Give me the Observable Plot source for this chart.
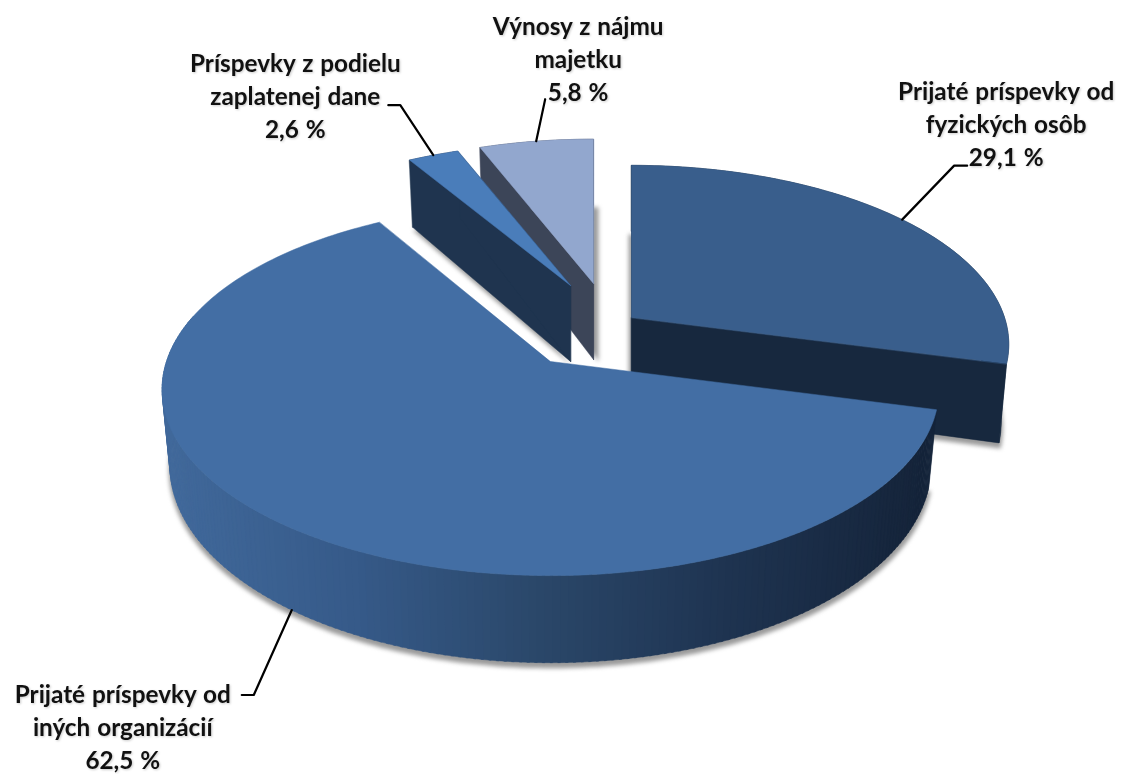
<!DOCTYPE html>
<html>
<head>
<meta charset="utf-8">
<script src="https://cdn.jsdelivr.net/npm/d3@7"></script>
<script src="https://cdn.jsdelivr.net/npm/@observablehq/plot@0.6"></script>
<style>
html,body{margin:0;padding:0;background:#fff;}
svg{display:block;}
</style>
</head>
<body>
<div id="chart"></div>
<script>
// ---- chart values, in slice order, clockwise from 12 o'clock ----
const categories = [
  "Prijaté príspevky od\nfyzických osôb",
  "Prijaté príspevky od\niných organizácií",
  "Príspevky z podielu\nzaplatenej dane",
  "Výnosy z nájmu\nmajetku"
];
const shares = [29.1, 62.5, 2.6, 5.8];

// ---- look of each slice ----
const topColors  = ["#395e8c", "#436ea4", "#4a7dba", "#92a7ce"];
const wallColors = ["#17283e", null, "#1f344f", "#3c4558"];
const wallRamp = d3.piecewise(d3.interpolateRgb, ["#41699b", "#365a89", "#2a4769", "#1e3350", "#15243a"]);

// ---- exploded layout of the perspective pie ----
const hubX  = [631, 550, 570, 593];
const hubY  = [317, 361, 285, 283];
const radX  = [373, 384, 361, 363];
const radY  = [175, 182, 164, 166];
const depths = [76, 74, 76, 76];
const perspective = 0.15, narrowing = 0.98;
const shadowDx = [0, 0, 0, 5], shadowDy = [4, 5, 3, 2], shadowGrow = [1.012, 1.004, 1, 1];
const elbows = [[[52, -54], [65, -54]], [[-38, 85], [-50, 85]], [[-33, -50], [-45, -50]], [[9, -42]]];
const labelOffset = [[104, -97], [-169, 115], [-138, -61], [42, -84]];

// ---- angles from the values ----
const total = d3.sum(shares);
const cum = d3.cumsum(shares);
const startA = shares.map((v, i) => ((cum[i] - v) / total) * 2 * Math.PI);
const endA = shares.map((v, i) => (cum[i] / total) * 2 * Math.PI);

function project(i, a, lower = false) {
  const X = Math.sin(a), Y = -Math.cos(a), s = 1 / (1 - perspective * Y);
  const n = lower ? narrowing : 1;
  return {
    x: hubX[i] + radX[i] * X * s * n,
    y: hubY[i] + radY[i] * Y * s + (lower ? depths[i] * s : 0)
  };
}
function arc(i, a0, a1, lower = false) {
  const steps = Math.max(2, Math.ceil(Math.abs(a1 - a0) / (Math.PI / 180)));
  return d3.range(steps + 1).map(k => project(i, a0 + (a1 - a0) * k / steps, lower));
}
const hubTop = i => ({x: hubX[i], y: hubY[i]});
const hubLow = i => ({x: hubX[i], y: hubY[i] + depths[i]});

const polygons = [];
let pid = 0;
function poly(points, color) {
  const id = pid++;
  for (const p of points) polygons.push({x: p.x, y: p.y, id, color});
}

// paint back to front
const order = [3, 2, 0, 1];
for (const i of order) {
  const a0 = startA[i], a1 = endA[i];
  if (wallColors[i]) {
    poly([...arc(i, a0, a1), ...arc(i, a0, a1, true).reverse()], wallColors[i]);
    poly([hubTop(i), project(i, a0), project(i, a0, true), hubLow(i)], wallColors[i]);
    poly([hubTop(i), project(i, a1), project(i, a1, true), hubLow(i)], wallColors[i]);
  } else {
    const n = Math.ceil((a1 - a0) / (Math.PI / 180));
    for (let k = 0; k < n; k++) {
      const b0 = a0 + (a1 - a0) * k / n, b1 = a0 + (a1 - a0) * (k + 1.3) / n;
      const t = project(i, b0);
      if (Math.cos(b0) > 0.25) continue;
      poly([t, project(i, b1), project(i, b1, true), project(i, b0, true)],
           wallRamp(Math.max(0, Math.min(1, (t.x - 165) / 760))));
    }
  }
  poly([hubTop(i), ...arc(i, a0, a1)], topColors[i]);
}

// soft shadows under the lower faces
const shadowPts = [];
shares.forEach((_, i) => {
  const pts = [hubLow(i), ...arc(i, startA[i], endA[i], true)];
  const mx = d3.mean(pts, p => p.x), my = d3.mean(pts, p => p.y);
  for (const p of pts) shadowPts.push({
    x: mx + (p.x - mx) * shadowGrow[i] + shadowDx[i],
    y: my + (p.y - my) * shadowGrow[i] + shadowDy[i],
    id: i
  });
});

// leaders and labels hang off each slice's mid-angle
const leaders = [], labels = [];
shares.forEach((v, i) => {
  const mid = (startA[i] + endA[i]) / 2;
  const anchor = project(i, mid, i === 1);
  leaders.push({x: anchor.x, y: anchor.y, id: i});
  for (const [dx, dy] of elbows[i]) leaders.push({x: anchor.x + dx, y: anchor.y + dy, id: i});
  labels.push({
    x: anchor.x + labelOffset[i][0],
    y: anchor.y + labelOffset[i][1],
    text: categories[i] + "\n" + String(v).replace(".", ",") + " %"
  });
});

const styled = (filter, extra = {}) => (index, scales, values, dims, ctx, next) => {
  const g = next(index, scales, values, dims, ctx);
  g.style.filter = filter;
  Object.assign(g.style, extra);
  return g;
};

const chart = Plot.plot({
  width: 1128,
  height: 774,
  margin: 0,
  style: {background: "#ffffff"},
  x: {domain: [0, 1128], range: [0, 1128], axis: null},
  y: {domain: [0, 774], range: [0, 774], axis: null},
  color: {type: "identity"},
  marks: [
    Plot.line(shadowPts, {x: "x", y: "y", z: "id", fill: "#6f6f6f", stroke: "none", fillOpacity: 0.7,
      curve: "linear-closed", render: styled("blur(2px)")}),
    Plot.line(polygons, {x: "x", y: "y", z: "id", fill: "color", stroke: "color", strokeWidth: 0.5,
      curve: "linear-closed"}),
    Plot.line(leaders, {x: "x", y: "y", z: "id", stroke: "#000000", strokeWidth: 2.2, strokeLinejoin: "round"}),
    Plot.text(labels, {x: "x", y: "y", text: "text", fontFamily: "Lato", fontWeight: 700, fontSize: 24.3,
      lineHeight: 1.36, fill: "#111111", textAnchor: "middle", lineAnchor: "middle",
      render: styled("drop-shadow(1px 1px 1px rgba(0,0,0,0.2))", {wordSpacing: "1px"})})
  ]
});
document.getElementById("chart").appendChild(chart);
</script>
</body>
</html>
